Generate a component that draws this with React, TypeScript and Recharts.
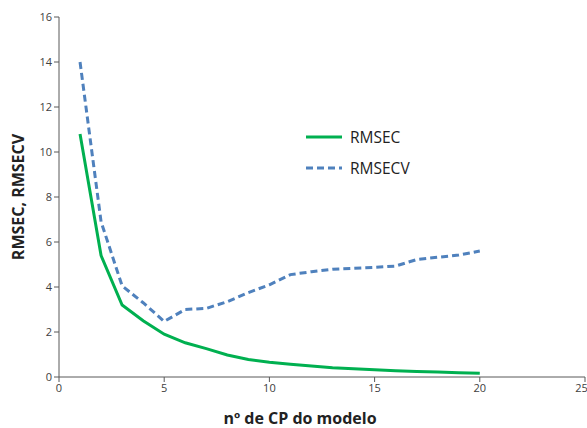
import React from 'react';
import { LineChart, Line, XAxis, YAxis, Legend, Label } from 'recharts';

// número de componentes principais
const nCP = [1, 2, 3, 4, 5, 6, 7, 8, 9, 10, 11, 12, 13, 14, 15, 16, 17, 18, 19, 20];
const rmsec = [10.8, 5.4, 3.2, 2.5, 1.9, 1.52, 1.26, 0.98, 0.78, 0.66, 0.57, 0.49, 0.41, 0.37, 0.32, 0.28, 0.24, 0.22, 0.19, 0.17];
const rmsecv = [14.0, 6.9, 4.05, 3.3, 2.47, 3.0, 3.05, 3.35, 3.75, 4.1, 4.55, 4.68, 4.79, 4.83, 4.87, 4.93, 5.22, 5.32, 5.42, 5.6];
const xTicks = [0, 5, 10, 15, 20, 25];
const yTicks = [0, 2, 4, 6, 8, 10, 12, 14, 16];

const data = nCP.map((n, i) => ({ n, rmsec: rmsec[i], rmsecv: rmsecv[i] }));

const axisColor = '#595959';
const tickStyle = { fontSize: 11, fill: '#404040', fontFamily: 'Open Sans, sans-serif' };

const LegendBox = (props: any) => {
  const { payload } = props;
  return (
    <div style={{ fontFamily: 'Open Sans, sans-serif', fontSize: 15.5, color: '#222' }}>
      {(payload || []).map((p: any) => (
        <div key={p.value} style={{ display: 'flex', alignItems: 'center', height: 31 }}>
          <svg width={36} height={6} style={{ marginRight: 8 }}>
            <line
              x1={0}
              y1={3}
              x2={36}
              y2={3}
              stroke={p.color}
              strokeWidth={3}
              strokeDasharray={p.dataKey === 'rmsecv' ? '7 4' : undefined}
            />
          </svg>
          <span>{p.value}</span>
        </div>
      ))}
    </div>
  );
};

export default function App() {
  return (
    <div style={{ position: 'absolute', left: 0, top: 0, width: 587, height: 428, background: '#fff' }}>
      <LineChart width={587} height={428} data={data} margin={{ top: 17, right: 2, left: 0, bottom: 0 }}>
        <XAxis
          dataKey="n"
          type="number"
          domain={[0, 25]}
          ticks={xTicks}
          stroke={axisColor}
          tickLine={{ stroke: axisColor }}
          tickSize={5}
          tick={tickStyle}
          height={51}
        >
          <Label
            value="nº de CP  do modelo"
            position="insideBottom"
            offset={4}
            dx={-22}
            style={{ fontSize: 16, fontWeight: 700, fill: '#222', fontFamily: 'Open Sans, sans-serif', whiteSpace: 'pre' }}
          />
        </XAxis>
        <YAxis
          type="number"
          domain={[0, 16]}
          ticks={yTicks}
          stroke={axisColor}
          tickLine={{ stroke: axisColor }}
          tickSize={5}
          tick={tickStyle}
          width={59}
        >
          <Label
            value="RMSEC, RMSECV"
            angle={-90}
            position="insideLeft"
            offset={18}
            style={{ fontSize: 16, fontWeight: 700, fill: '#222', textAnchor: 'middle', fontFamily: 'Open Sans, sans-serif' }}
          />
        </YAxis>
        <Legend
          layout="vertical"
          verticalAlign="middle"
          align="center"
          wrapperStyle={{ left: 306, top: 121, width: 150 }}
          content={<LegendBox />}
        />
        <Line
          dataKey="rmsec"
          name="RMSEC"
          stroke="#00B050"
          strokeWidth={3}
          dot={false}
          isAnimationActive={false}
        />
        <Line
          dataKey="rmsecv"
          name="RMSECV"
          stroke="#4F81BD"
          strokeWidth={3}
          strokeDasharray="7 4"
          dot={false}
          isAnimationActive={false}
        />
      </LineChart>
    </div>
  );
}
